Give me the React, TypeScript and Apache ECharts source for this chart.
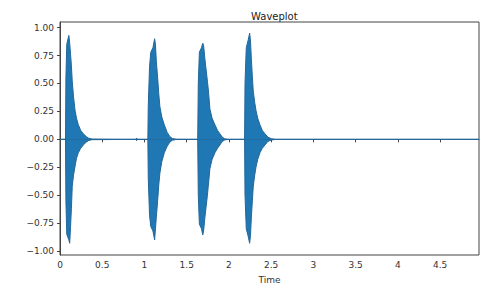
import React, { useEffect, useRef } from "react";
import * as echarts from "echarts";

// Envelope of the waveform (time in seconds, amplitude)
const envTime = [
  0, 0.065, 0.07, 0.08, 0.095, 0.105, 0.115, 0.125, 0.135, 0.145, 0.16, 0.178, 0.195, 0.217, 0.245, 0.276, 0.31, 0.34, 0.38,
  0.9, 0.907, 0.915,
  1.04, 1.045, 1.06, 1.075, 1.1, 1.12, 1.13, 1.14, 1.156, 1.17, 1.183, 1.205, 1.235, 1.27, 1.3, 1.33, 1.37,
  1.63, 1.637, 1.65, 1.675, 1.69, 1.7, 1.715, 1.73, 1.745, 1.755, 1.775, 1.8, 1.834, 1.865, 1.893, 1.92, 1.95, 1.99,
  2.185, 2.19, 2.205, 2.225, 2.245, 2.255, 2.265, 2.277, 2.288, 2.305, 2.32, 2.34, 2.367, 2.395, 2.426, 2.46, 2.5, 2.55,
  4.96,
];
const envUpper = [
  0, 0, 0.55, 0.85, 0.9, 0.93, 0.86, 0.76, 0.66, 0.52, 0.38, 0.26, 0.19, 0.13, 0.08, 0.05, 0.025, 0.01, 0.003,
  0, 0.012, 0,
  0, 0.3, 0.65, 0.78, 0.82, 0.9, 0.85, 0.7, 0.55, 0.4, 0.29, 0.2, 0.13, 0.06, 0.025, 0.008, 0.002,
  0, 0.5, 0.78, 0.82, 0.86, 0.84, 0.72, 0.62, 0.52, 0.45, 0.27, 0.19, 0.13, 0.08, 0.05, 0.02, 0.005, 0.001,
  0, 0.5, 0.82, 0.88, 0.95, 0.88, 0.72, 0.56, 0.43, 0.33, 0.26, 0.19, 0.13, 0.08, 0.05, 0.02, 0.006, 0.001,
  0,
];
const envLower = [
  0, 0, -0.55, -0.85, -0.88, -0.9, -0.93, -0.78, -0.62, -0.42, -0.32, -0.24, -0.17, -0.12, -0.08, -0.05, -0.025, -0.01, -0.003,
  0, -0.012, 0,
  0, -0.35, -0.68, -0.78, -0.82, -0.9, -0.8, -0.7, -0.55, -0.4, -0.3, -0.2, -0.12, -0.06, -0.025, -0.008, -0.002,
  0, -0.5, -0.76, -0.8, -0.855, -0.82, -0.7, -0.6, -0.5, -0.42, -0.26, -0.18, -0.12, -0.08, -0.05, -0.02, -0.005, -0.001,
  0, -0.5, -0.8, -0.86, -0.93, -0.86, -0.7, -0.55, -0.42, -0.32, -0.25, -0.18, -0.12, -0.08, -0.05, -0.02, -0.006, -0.001,
  0,
];

const xTicks = [0, 0.5, 1, 1.5, 2, 2.5, 3, 3.5, 4, 4.5];
const yTicks = [-1, -0.75, -0.5, -0.25, 0, 0.25, 0.5, 0.75, 1];

const BLUE = "#1f77b4";
const EDGE = "#24679a";
const AXIS = "#444";
const FONT = "DejaVu Sans";

export default function App() {
  const ref = useRef<HTMLDivElement>(null);
  useEffect(() => {
    if (!ref.current) return;
    const chart = echarts.init(ref.current, undefined, { renderer: "svg" });
    const upper = envTime.map((t, i) => [t, envUpper[i]]);
    const lower = envTime.map((t, i) => [t, envLower[i]]);
    const seriesStyle = {
      type: "line" as const,
      showSymbol: false,
      symbol: "none",
      lineStyle: { color: EDGE, width: 1 },
      areaStyle: { color: BLUE, opacity: 1, origin: 0 },
      silent: true,
    };
    chart.setOption({
      animation: false,
      title: {
        text: "Waveplot",
        left: 246,
        top: 6,
        textStyle: { fontFamily: FONT, fontSize: 10, fontWeight: "normal", color: "#222" },
      },
      grid: {
        left: 60,
        right: 2,
        top: 22,
        bottom: 31,
        show: true,
        borderColor: AXIS,
        borderWidth: 1,
        backgroundColor: "transparent",
      },
      xAxis: {
        type: "value",
        min: 0,
        max: 4.96,
        name: "Time",
        nameLocation: "middle",
        nameGap: 20,
        nameTextStyle: { fontFamily: FONT, fontSize: 9, color: "#333" },
        axisLine: { show: true, lineStyle: { color: AXIS } },
        axisTick: { show: true, length: 3, customValues: xTicks, lineStyle: { color: AXIS } },
        axisLabel: {
          customValues: xTicks,
          fontFamily: FONT,
          fontSize: 9,
          color: "#333",
          margin: 5,
          formatter: (v: number) => String(v),
        },
        splitLine: { show: false },
      },
      yAxis: {
        type: "value",
        min: -1.035,
        max: 1.05,
        axisLine: { show: true, lineStyle: { color: AXIS } },
        axisTick: { show: true, length: 3, customValues: yTicks, lineStyle: { color: AXIS } },
        axisLabel: {
          customValues: yTicks,
          fontFamily: FONT,
          fontSize: 9,
          color: "#333",
          margin: 6,
          formatter: (v: number) => v.toFixed(2).replace("-", "\u2212"),
        },
        splitLine: { show: false },
      },
      series: [
        { ...seriesStyle, name: "upper", data: upper },
        { ...seriesStyle, name: "lower", data: lower },
      ],
    });
    return () => chart.dispose();
  }, []);
  return (
    <div
      ref={ref}
      style={{ position: "fixed", left: 0, top: 0, width: 481, height: 289, background: "#fff" }}
    />
  );
}
